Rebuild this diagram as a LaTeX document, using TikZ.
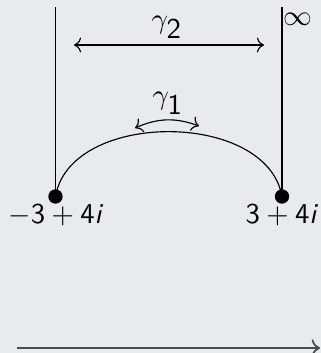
\documentclass[tikz,border=0pt]{standalone}
\usetikzlibrary{arrows.meta}
\definecolor{bgc}{RGB}{233,234,238}
\begin{document}
\begin{tikzpicture}[x=0.348pt,y=-0.348pt,
  dotnode/.style={circle,fill=black,inner sep=0pt,minimum size=5pt},
  lbl/.style={inner sep=0pt,anchor=base},
  axisline/.style={draw=black!70,line width=0.6pt,->}]
\fill[bgc] (0,0) rectangle (321,353);
\useasboundingbox (0,0) rectangle (321,353);
\node[dotnode] (L) at (55.5,196.5) {};
\node[dotnode] (R) at (282,196.5) {};
\coordinate (Ltop) at (55.5,7);
\coordinate (Rtop) at (282,7);
\draw (Ltop) -- (L.center);
\draw (Rtop) -- (R.center);
\draw (L.center) .. controls (70,110) and (267,110) .. (R.center);
\node[lbl] (lL) at (55,223) {$-\textsf{3}+\textsf{4}\textsf{\itshape i}$};
\node[lbl] (lR) at (281,223) {$\textsf{3}+\textsf{4}\textsf{\itshape i}$};
\node[inner sep=0pt,anchor=base west] (inf) at (283,25) {$\infty$};
\coordinate (g2a) at (74,45);
\coordinate (g2b) at (264,45);
\draw[<->] (g2a) -- (g2b);
\node[lbl] (g2) at (167,28.5) {$\gamma_{\textsf{2}}$};
\coordinate (g1a) at (135,128);
\coordinate (g1b) at (199,126);
\draw[<->] (g1a) to[bend left=22] (g1b);
\node[lbl] (g1) at (168,104.5) {$\gamma_{\textsf{1}}$};
\coordinate (ax0) at (17,348);
\coordinate (ax1) at (320,348);
\draw[axisline] (ax0) -- (ax1);
\end{tikzpicture}
\end{document}
